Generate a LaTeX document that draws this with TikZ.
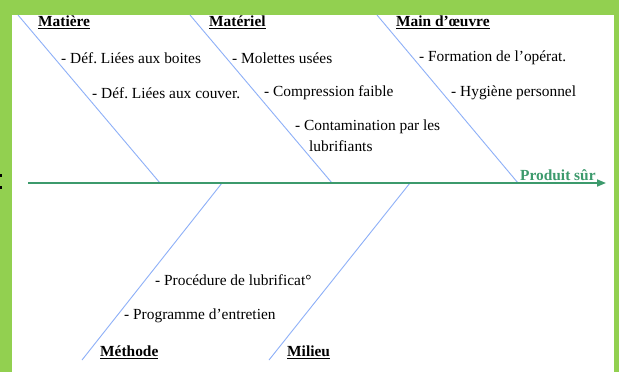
\documentclass[tikz,border=0pt]{standalone}
\usepackage{fontspec}
\setmainfont{Liberation Serif}
\usetikzlibrary{arrows.meta}
\definecolor{frame}{HTML}{92D050}
\definecolor{spine}{HTML}{3C9A6C}
\definecolor{bone}{HTML}{8EB0F8}
\newcommand{\ulbox}[1]{\underline{#1}}
\tikzset{
  cause/.style={anchor=west, inner sep=0pt, font=\fontsize{15.4}{17}\selectfont\frenchspacing},
  head/.style={anchor=west, inner sep=0pt, font=\fontsize{15.4}{17}\selectfont\bfseries\frenchspacing},
  boneline/.style={draw=bone, line width=0.9pt},
  spineline/.style={draw=spine, line width=1.8pt, -{Triangle[length=9pt,width=7pt]}},
}
\begin{document}
\begin{tikzpicture}[x=1pt,y=-1pt]
\useasboundingbox (0,0) rectangle (619,372);
\fill[frame] (0,0) rectangle (619,372);
\fill[white] (12,15) rectangle (614,372);
\fill[black] (0,174) rectangle (1.5,176.5);
\fill[black] (0,186) rectangle (1.5,188.5);
% spine
\coordinate (tail) at (28,183);
\coordinate (headpt) at (606,183);
% bones
\coordinate (m1t) at (18,15);   \coordinate (m1b) at (160,183);
\coordinate (m2t) at (190,15);  \coordinate (m2b) at (332,183);
\coordinate (m3t) at (377,15);  \coordinate (m3b) at (518,183);
\coordinate (m4t) at (222,183); \coordinate (m4b) at (82,360);
\coordinate (m5t) at (410,183); \coordinate (m5b) at (269,360);
\draw[boneline] (m1t) -- (m1b);
\draw[boneline] (m2t) -- (m2b);
\draw[boneline] (m3t) -- (m3b);
\draw[boneline] (m4t) -- (m4b);
\draw[boneline] (m5t) -- (m5b);
\draw[spineline] (tail) -- (headpt);
% headings
\node[head] (h1) at (38,22) {\ulbox{Matière}};
\node[head] (h2) at (209,22) {\ulbox{Matériel}};
\node[head] (h3) at (396,22) {\ulbox{Main d’œuvre}};
\node[head] (h4) at (100,352) {\ulbox{Méthode}};
\node[head] (h5) at (287,352) {\ulbox{Milieu}};
\node[head, text=spine] (eff) at (520,175) {Produit sûr};
% causes
\node[cause] (c1) at (61,58) {- Déf. Liées aux boites};
\node[cause] (c2) at (92,93) {- Déf. Liées aux couver.};
\node[cause] (c3) at (232,58) {- Molettes usées};
\node[cause] (c4) at (264,93) {- Compression faible};
\node[cause] (c5) at (295,127) {- Contamination par les};
\node[cause] (c5b) at (309,146) {lubrifiants};
\node[cause] (c6) at (419,58) {- Formation de l’opérat.};
\node[cause] (c7) at (451,93) {- Hygiène personnel};
\node[cause] (c8) at (155,280) {- Procédure de lubrificat°};
\node[cause] (c9) at (124,316) {- Programme d’entretien};
\end{tikzpicture}
\end{document}
